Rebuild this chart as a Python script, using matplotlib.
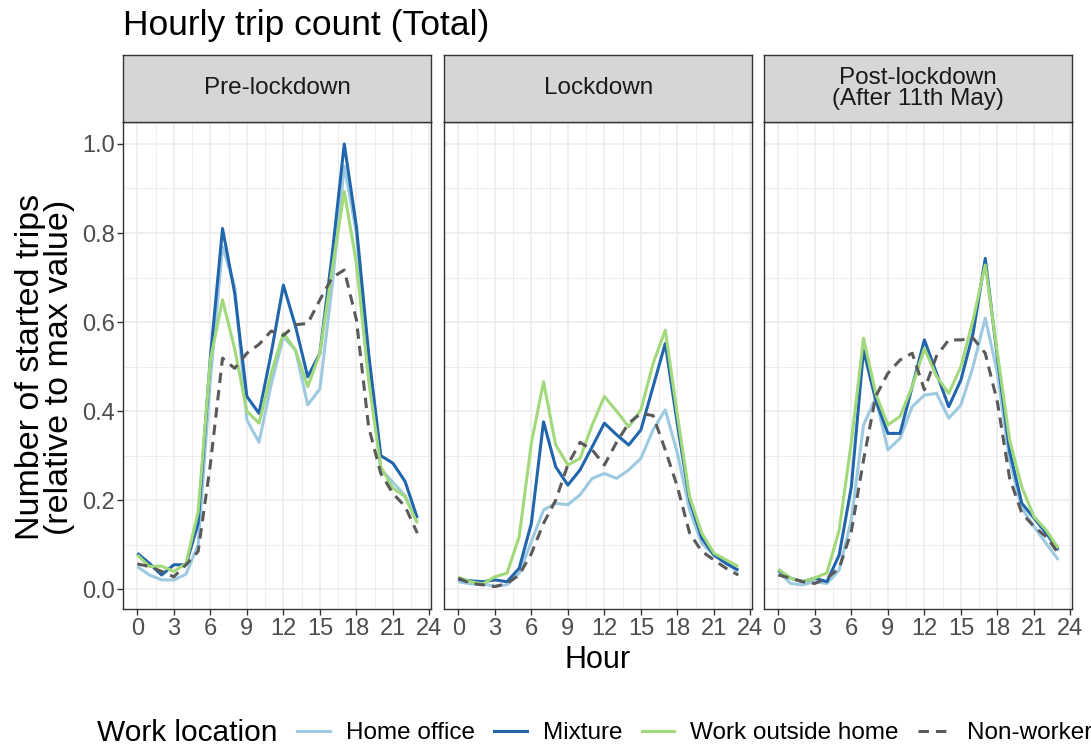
import numpy as np
import matplotlib
matplotlib.use('Agg')
import matplotlib.pyplot as plt
from matplotlib.lines import Line2D

plt.rcParams['font.family'] = ['Liberation Sans', 'DejaVu Sans']

## Data (relative number of started trips per hour)

hours = np.arange(24)
periods = ['Pre-lockdown', 'Lockdown', 'Post-lockdown\n(After 11th May)']
groups = ['Home office', 'Mixture', 'Work outside home', 'Non-worker']

pre_home = [0.051, 0.032, 0.021, 0.021, 0.034, 0.10, 0.47, 0.77, 0.68, 0.38, 0.33, 0.46,
            0.567, 0.537, 0.414, 0.45, 0.68, 0.95, 0.80, 0.50, 0.27, 0.24, 0.21, 0.15]
pre_mix = [0.081, 0.058, 0.032, 0.055, 0.055, 0.148, 0.52, 0.81, 0.665, 0.433, 0.395, 0.53,
           0.683, 0.59, 0.477, 0.53, 0.75, 1.0, 0.814, 0.53, 0.30, 0.283, 0.242, 0.16]
pre_out = [0.077, 0.051, 0.052, 0.04, 0.058, 0.174, 0.515, 0.65, 0.54, 0.40, 0.373, 0.485,
           0.575, 0.537, 0.455, 0.53, 0.717, 0.893, 0.732, 0.47, 0.275, 0.227, 0.208, 0.148]
pre_non = [0.057, 0.051, 0.04, 0.028, 0.055, 0.085, 0.28, 0.519, 0.496, 0.53, 0.55, 0.58,
           0.57, 0.594, 0.597, 0.65, 0.70, 0.717, 0.605, 0.365, 0.26, 0.215, 0.186, 0.126]

lock_home = [0.017, 0.012, 0.012, 0.007, 0.01, 0.036, 0.107, 0.178, 0.193, 0.19, 0.212, 0.249,
             0.26, 0.249, 0.268, 0.294, 0.358, 0.403, 0.305, 0.178, 0.103, 0.077, 0.058, 0.04]
lock_mix = [0.022, 0.019, 0.017, 0.021, 0.017, 0.047, 0.148, 0.376, 0.275, 0.234, 0.268, 0.32,
            0.373, 0.347, 0.324, 0.358, 0.455, 0.552, 0.37, 0.20, 0.115, 0.077, 0.058, 0.043]
lock_out = [0.027, 0.017, 0.012, 0.028, 0.036, 0.118, 0.328, 0.466, 0.324, 0.279, 0.294, 0.369,
            0.433, 0.40, 0.365, 0.403, 0.507, 0.582, 0.39, 0.208, 0.126, 0.081, 0.066, 0.051]
lock_non = [0.025, 0.013, 0.01, 0.006, 0.013, 0.032, 0.08, 0.148, 0.20, 0.28, 0.33, 0.313,
            0.279, 0.33, 0.373, 0.395, 0.39, 0.313, 0.23, 0.126, 0.085, 0.066, 0.047, 0.032]

post_home = [0.04, 0.013, 0.01, 0.017, 0.013, 0.043, 0.156, 0.369, 0.43, 0.313, 0.339, 0.41,
             0.436, 0.44, 0.384, 0.414, 0.50, 0.609, 0.485, 0.29, 0.182, 0.141, 0.103, 0.066]
post_mix = [0.043, 0.025, 0.017, 0.025, 0.017, 0.077, 0.23, 0.537, 0.425, 0.35, 0.35, 0.455,
            0.56, 0.485, 0.41, 0.47, 0.575, 0.743, 0.52, 0.31, 0.193, 0.16, 0.126, 0.088]
post_out = [0.045, 0.025, 0.017, 0.025, 0.037, 0.133, 0.33, 0.564, 0.44, 0.369, 0.388, 0.455,
            0.541, 0.478, 0.44, 0.50, 0.605, 0.728, 0.53, 0.335, 0.23, 0.163, 0.133, 0.092]
post_non = [0.032, 0.025, 0.017, 0.013, 0.025, 0.047, 0.13, 0.29, 0.433, 0.485, 0.515, 0.53,
            0.448, 0.524, 0.56, 0.56, 0.564, 0.53, 0.42, 0.25, 0.171, 0.141, 0.118, 0.081]

panel_data = [
    [pre_home, pre_mix, pre_out, pre_non],
    [lock_home, lock_mix, lock_out, lock_non],
    [post_home, post_mix, post_out, post_non],
]

colors = ['#9ECAE1', '#2166AC', '#A1D97B', '#5A5A5A']
styles = ['-', '-', '-', (0, (3.4, 2.3))]

## Layout in pixels (figure is 1091 x 747)

W, H = 1091.0, 747.0
lefts = [123.3, 444.3, 764.3]
pw = 308.0
ptop, pbot = 121.7, 609.3
stop = 55.0

fig = plt.figure(figsize=(10.91, 7.47), dpi=100)

axes = []
for i, left in enumerate(lefts):
    ax = fig.add_axes([left / W, (H - pbot) / H, pw / W, (pbot - ptop) / H])
    for vals, c, ls in zip(panel_data[i], colors, styles):
        ax.plot(hours, vals, color=c, linestyle=ls, lw=2.2, solid_capstyle='butt')
    ax.set_xlim(-1.15, 24.15)
    ax.set_ylim(-0.045, 1.05)
    ax.set_xticks(np.arange(0, 25, 3))
    ax.set_xticks(np.arange(1.5, 24, 3), minor=True)
    ax.set_yticks(np.arange(0, 1.01, 0.2))
    ax.set_yticks(np.arange(0.1, 1.0, 0.2), minor=True)
    ax.grid(which='major', color='#EBEBEB', lw=1.1)
    ax.grid(which='minor', color='#EBEBEB', lw=0.6)
    ax.set_axisbelow(True)
    ax.tick_params(which='minor', length=0)
    ax.tick_params(which='major', length=4, width=1.0, color='#333333',
                   labelsize=17, labelcolor='#4D4D4D', pad=2)
    for s in ax.spines.values():
        s.set_color('#333333')
        s.set_linewidth(1.0)
    if i == 0:
        ax.set_yticklabels(['0.0', '0.2', '0.4', '0.6', '0.8', '1.0'])
    else:
        ax.tick_params(axis='y', which='major', length=0, labelleft=False)

    ## facet strip
    sax = fig.add_axes([left / W, (H - ptop) / H, pw / W, (ptop - stop) / H])
    sax.set_facecolor('#D6D6D6')
    sax.set_xticks([])
    sax.set_yticks([])
    for s in sax.spines.values():
        s.set_color('#333333')
        s.set_linewidth(1.0)
    sax.text(0.5, 0.5, periods[i], ha='center', va='center', fontsize=17.5,
             color='#1A1A1A', transform=sax.transAxes, linespacing=0.95)
    axes.append(ax)

fig.text(123 / W, 1 - 35 / H, 'Hourly trip count (Total)', fontsize=25.5, va='baseline', ha='left')
fig.text(597.5 / W, 1 - 668 / H, 'Hour', fontsize=22, ha='center', va='baseline')
fig.text(45 / W, 1 - 367 / H, 'Number of started trips\n(relative to max value)', fontsize=24.5,
         rotation=90, ha='center', va='center', linespacing=0.95)

## Legend along the bottom
fig.text(97 / W, 14 / H, 'Work location', fontsize=21.5, ha='left', va='center')
handles = [Line2D([], [], color=c, linestyle=ls, lw=2.2) for c, ls in zip(colors, styles)]
fig.legend(handles, groups, loc='center left', bbox_to_anchor=(297 / W, 14 / H), ncol=4,
           frameon=False, fontsize=17.5, handlelength=1.35, handletextpad=0.65,
           columnspacing=0.8, borderaxespad=0, borderpad=0)

fig.savefig('out.png', dpi=100)
